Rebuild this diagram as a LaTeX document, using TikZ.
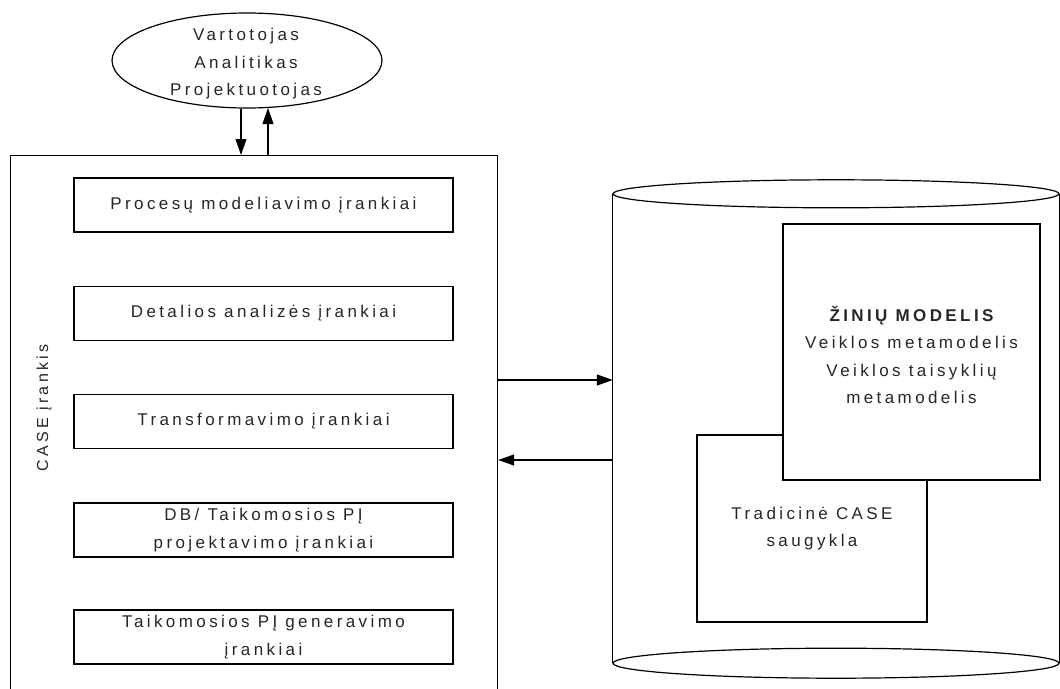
\documentclass[tikz,border=0pt]{standalone}
\usepackage{fontspec}
\setmainfont{Liberation Sans}[LetterSpace=20]
\usetikzlibrary{shapes.geometric,arrows.meta}

\newcommand{\lbltext}{\fontsize{17}{27.5}\selectfont}
\newcommand{\sidetext}{\fontsize{16}{20}\selectfont}

\tikzset{
  outline/.style={draw=black, line width=1.2pt},
  toolbox/.style={outline, minimum width=379pt, minimum height=54pt,
    inner sep=0pt, align=center, font=\lbltext, text=black!85},
  plain/.style={align=center, font=\lbltext, text=black!85, inner sep=0pt},
  arr/.style={line width=1.2pt, -{Triangle[length=16pt,width=11pt]}},
}

\begin{document}
\begin{tikzpicture}[x=1pt,y=-1pt]
\useasboundingbox (0,0) rectangle (1060,688);
\clip (0,0) rectangle (1060,688);

% users of the tool
\node (user) [outline, ellipse, minimum width=270pt, minimum height=95pt,
  inner sep=0pt] at (247,60.5) {};
\node (userlbl) [plain] at (246,64) {Vartotojas\\Analitikas\\Projektuotojas};

% the CASE tool frame and its components
\node (casebox) [outline, minimum width=487pt, minimum height=565pt,
  inner sep=0pt, anchor=north west] at (10,155) {};
\node (caselbl) [font=\sidetext, text=black!85, rotate=90, inner sep=0pt]
  at (44,408) {CASE įrankis};

\node (t1) [toolbox] at (263.5,205) {Procesų modeliavimo įrankiai};
\node (t2) [toolbox] at (263.5,313.5) {Detalios analizės įrankiai};
\node (t3) [toolbox] at (263.5,421.5) {Transformavimo įrankiai};
\node (t4) [toolbox] at (263.5,530) {DB/ Taikomosios PĮ\\projektavimo įrankiai};
\node (t5) [toolbox] at (263.5,637) {Taikomosios PĮ generavimo\\įrankiai};

% repository cylinder
\node (store) [minimum width=446pt, minimum height=469pt, inner sep=0pt]
  at (836,428.5) {};
\draw[outline] (store.north west) -- (store.south west);
\draw[outline] (store.north east) -- (store.south east);
\draw[outline] (store.north) ellipse [x radius=223, y radius=14];
\draw[outline] (store.south) ellipse [x radius=223, y radius=15];

% contents of the repository
\node (trad) [outline, fill=white, minimum width=230pt, minimum height=187pt,
  inner sep=0pt, align=center, font=\lbltext, text=black!85]
  at (812,528.5) {Tradicinė CASE\\saugykla};
\node (know) [outline, fill=white, minimum width=257pt, minimum height=256pt,
  inner sep=0pt] at (911.5,352) {};
\node (knowlbl) [plain] at (911.5,355)
  {{\bfseries ŽINIŲ MODELIS}\\Veiklos metamodelis\\Veiklos taisyklių\\metamodelis};

% interaction arrows
\coordinate (reqfoot) at ([xshift=-6pt]user.south);
\coordinate (ansfoot) at ([xshift=21pt,yshift=0.6pt]user.south);
\draw[arr] (reqfoot) -- (reqfoot |- casebox.north);
\draw[arr] (ansfoot |- casebox.north) -- (ansfoot);
\draw[arr] (casebox.east |- 0,380) -- (store.west |- 0,380);
\draw[arr] (store.west |- 0,460) -- (casebox.east |- 0,460);
\end{tikzpicture}
\end{document}
